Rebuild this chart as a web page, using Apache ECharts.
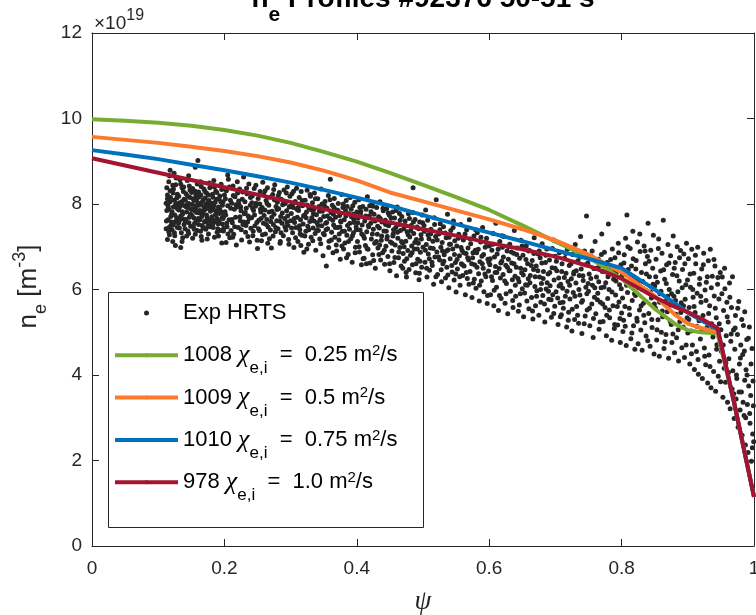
<!DOCTYPE html>
<html><head><meta charset="utf-8">
<script src="https://cdn.jsdelivr.net/npm/echarts@6/dist/echarts.min.js"></script>
<style>html,body{margin:0;padding:0;background:#fff}#c{width:756px;height:615px}</style>
</head><body><div id="c"></div>
<script>
// ---------- data ----------
const xTicks = [0, 0.2, 0.4, 0.6, 0.8, 1];
const yTicks = [0, 2, 4, 6, 8, 10, 12];
const modelPsi = [0,0.05,0.1,0.15,0.2,0.25,0.3,0.35,0.4,0.45,0.5,0.55,0.6,0.65,0.7,0.75,0.8,0.85,0.88,0.9,0.92,0.945,0.97,1.0];
const ne1008 = [9.98,9.95,9.9,9.83,9.73,9.6,9.43,9.22,8.99,8.73,8.45,8.16,7.86,7.5,7.12,6.76,6.25,5.55,5.2,5.05,5.0,4.97,3.35,1.15];
const ne1009 = [9.57,9.5,9.43,9.34,9.24,9.12,8.97,8.78,8.55,8.27,8.06,7.85,7.64,7.41,7.15,6.82,6.4,5.85,5.42,5.2,5.1,5.0,3.35,1.15];
const ne1010 = [9.26,9.16,9.05,8.92,8.79,8.65,8.5,8.33,8.15,7.96,7.74,7.53,7.33,7.13,6.92,6.72,6.5,6.0,5.68,5.46,5.28,5.07,3.35,1.15];
const ne978  = [9.07,8.9,8.73,8.56,8.39,8.22,8.05,7.88,7.72,7.57,7.41,7.26,7.09,6.94,6.77,6.55,6.26,5.82,5.6,5.47,5.32,5.1,3.35,1.15];
const runIds = ['1008', '1009', '1010', '978'];
const chiLabels = ['0.25', '0.5', '0.75', '1.0'];
const expName = 'Exp HRTS';
const expHrts = [
[0.112,7.42],[0.113,7.85],[0.114,8.21],[0.115,7.63],[0.116,8.52],[0.117,7.28],[0.118,8.05],[0.119,7.71],[0.113,8.38],[0.115,7.95],[0.117,8.66],[0.119,7.49],[0.114,7.17],[0.116,7.88],[0.118,8.31],[0.112,8.02],[0.120,7.58],[0.118,8.79],[0.116,7.35],[0.114,8.12],
[0.121,7.82],[0.122,8.44],[0.123,7.51],[0.124,8.09],[0.125,7.26],[0.126,7.97],[0.127,8.61],[0.128,7.68],[0.129,8.23],[0.121,7.39],[0.123,8.35],[0.125,7.74],[0.127,8.02],[0.129,7.45],[0.122,7.12],[0.124,8.72],[0.126,7.59],[0.128,8.14],[0.130,7.89],[0.126,7.03],[0.123,7.93],
[0.131,8.18],[0.132,7.61],[0.133,7.94],[0.134,8.47],[0.135,7.33],[0.136,8.06],[0.137,7.77],[0.138,8.29],[0.139,7.52],[0.131,7.86],[0.133,8.57],[0.135,7.99],[0.137,7.21],[0.139,8.11],[0.132,7.44],[0.134,7.72],[0.136,8.38],[0.138,7.65],[0.140,7.96],[0.134,6.98],[0.136,7.12],
[0.141,7.58],[0.142,8.24],[0.143,7.81],[0.144,8.55],[0.145,7.37],[0.146,8.01],[0.147,7.69],[0.148,8.33],[0.149,7.48],[0.141,8.09],[0.143,7.25],[0.145,7.92],[0.147,8.42],[0.149,7.76],[0.142,7.64],[0.144,7.98],[0.146,7.31],[0.148,8.15],[0.150,7.87],[0.146,8.66],
[0.151,7.73],[0.152,8.36],[0.153,7.47],[0.154,8.08],[0.155,7.84],[0.156,7.29],[0.157,8.21],[0.158,7.62],[0.159,8.47],[0.151,7.99],[0.153,8.12],[0.155,7.55],[0.157,7.91],[0.159,7.38],[0.152,7.2],[0.154,7.67],[0.156,8.3],[0.158,7.8],[0.160,8.03],[0.156,8.86],[0.160,9.02],
[0.161,7.52],[0.162,8.17],[0.163,7.85],[0.164,7.36],[0.165,8.41],[0.166,7.71],[0.167,8.06],[0.168,7.44],[0.169,7.93],[0.161,8.28],[0.163,7.63],[0.165,7.24],[0.167,7.78],[0.169,8.35],[0.162,7.97],[0.164,8.52],[0.166,7.15],[0.168,8.1],[0.170,7.59],[0.164,8.0],
[0.171,7.88],[0.172,7.41],[0.173,8.26],[0.174,7.67],[0.175,8.04],[0.176,7.3],[0.177,7.95],[0.178,8.38],[0.179,7.56],[0.171,8.14],[0.173,7.74],[0.175,7.48],[0.177,8.49],[0.179,7.83],[0.172,7.99],[0.174,7.18],[0.176,8.21],[0.178,7.62],[0.180,7.91],
[0.181,7.7],[0.182,8.23],[0.183,7.45],[0.184,7.96],[0.185,8.4],[0.186,7.58],[0.187,7.84],[0.188,8.11],[0.189,7.34],[0.181,8.02],[0.183,7.87],[0.185,7.22],[0.187,8.3],[0.189,7.66],[0.182,7.51],[0.184,8.55],[0.186,8.04],[0.188,7.79],[0.190,7.42],
[0.191,7.93],[0.192,7.6],[0.193,8.19],[0.194,7.38],[0.195,7.81],[0.196,8.34],[0.197,7.53],[0.198,8.05],[0.199,7.72],[0.191,7.25],[0.193,7.88],[0.195,8.46],[0.197,7.97],[0.199,7.43],[0.192,8.12],[0.196,7.09],[0.198,7.66],[0.200,8.21],[0.205,8.68],
[0.1125,7.6],[0.1145,8.0],[0.1165,7.45],[0.1185,8.15],[0.1205,7.77],[0.1225,8.26],[0.1245,7.33],[0.1265,8.45],[0.1285,7.9],[0.1305,7.55],[0.1325,8.03],[0.1345,7.68],[0.1365,7.82],[0.1385,8.4],[0.1405,7.42],[0.1425,7.93],[0.1445,8.18],[0.1465,7.56],[0.1485,7.72],[0.1505,8.27],[0.1525,7.88],[0.1545,7.41],[0.1565,7.96],[0.1585,8.12],[0.1605,7.66],[0.1625,7.79],[0.1645,8.21],[0.1665,7.5],[0.1685,7.84],[0.1705,8.3],[0.1725,7.58],[0.1745,7.9],[0.1765,8.08],[0.1785,7.47],[0.1805,7.86],[0.1825,8.16],[0.1845,7.62],[0.1865,7.75],[0.1885,8.27],[0.1905,7.54],[0.1925,7.78],[0.1945,8.05],[0.1965,7.68],[0.1985,7.37],
[0.201,7.82],[0.203,8.31],[0.204,7.47],[0.205,7.96],[0.206,8.58],[0.207,7.63],[0.208,7.21],[0.209,8.09],[0.202,7.74],[0.210,7.38],
[0.211,8.02],[0.212,7.56],[0.213,8.42],[0.214,7.29],[0.215,7.88],[0.216,8.17],[0.217,7.69],[0.218,7.04],[0.219,7.93],[0.220,8.26],
[0.221,7.45],[0.222,7.99],[0.223,8.35],[0.224,7.61],[0.225,7.84],[0.226,7.16],[0.227,8.11],[0.228,7.52],[0.229,8.63],[0.230,7.77],
[0.231,8.05],[0.232,7.34],[0.233,7.9],[0.234,8.24],[0.235,7.58],[0.236,7.72],[0.237,8.47],[0.238,7.11],[0.239,7.97],[0.240,7.43],
[0.241,7.68],[0.242,8.19],[0.243,7.26],[0.244,7.85],[0.245,8.36],[0.246,7.49],[0.247,7.95],[0.248,8.02],[0.249,7.57],[0.250,6.96],
[0.251,8.13],[0.252,7.62],[0.253,7.38],[0.254,8.29],[0.255,7.81],[0.256,7.14],[0.257,7.92],[0.258,8.51],[0.259,7.55],[0.260,7.73],
[0.261,7.86],[0.262,7.3],[0.263,8.08],[0.264,7.64],[0.265,8.38],[0.266,7.46],[0.267,7.97],[0.268,7.19],[0.269,8.16],[0.270,7.59],
[0.271,6.97],[0.272,7.83],[0.273,8.22],[0.274,7.52],[0.275,7.76],[0.276,8.45],[0.277,7.35],[0.278,7.94],[0.279,7.61],[0.280,8.04],
[0.281,7.42],[0.282,7.89],[0.283,8.27],[0.284,7.08],[0.285,7.71],[0.286,8.11],[0.287,7.55],[0.288,7.98],[0.289,7.26],[0.290,8.33],
[0.291,7.66],[0.292,8.01],[0.293,7.39],[0.294,7.84],[0.295,8.4],[0.296,7.5],[0.297,7.17],[0.298,7.93],[0.299,8.18],[0.300,7.61],
[0.2015,8.12],[0.2035,7.55],[0.2055,7.3],[0.2075,8.4],[0.2095,7.9],[0.2025,7.1],
[0.2115,7.64],[0.2135,8.2],[0.2155,7.47],[0.2175,7.98],[0.2195,8.52],[0.2125,7.22],
[0.2215,8.07],[0.2235,7.7],[0.2255,7.4],[0.2275,8.28],[0.2295,7.58],[0.2245,7.93],
[0.2315,7.8],[0.2335,8.37],[0.2355,7.24],[0.2375,7.66],[0.2395,8.15],[0.2325,7.5],
[0.2415,8.03],[0.2435,7.36],[0.2455,7.74],[0.2475,8.44],[0.2495,7.15],[0.2425,7.9],
[0.2515,7.42],[0.2535,8.0],[0.2555,7.66],[0.2575,7.28],[0.2595,8.22],[0.2545,7.88],
[0.2615,8.31],[0.2635,7.52],[0.2655,7.08],[0.2675,7.81],[0.2695,7.39],[0.2645,8.01],
[0.2715,7.69],[0.2735,7.25],[0.2755,8.1],[0.2775,7.45],[0.2795,7.87],[0.2745,8.34],
[0.2815,8.2],[0.2835,7.6],[0.2855,7.33],[0.2875,7.79],[0.2895,8.05],[0.2845,7.12],
[0.2915,7.47],[0.2935,8.26],[0.2955,7.72],[0.2975,7.06],[0.2995,7.95],[0.2945,7.58],
[0.301,7.78],[0.302,8.24],[0.303,7.33],[0.304,7.92],[0.305,6.98],[0.306,7.57],[0.307,8.06],[0.308,7.45],[0.309,8.37],[0.310,7.69],
[0.311,7.12],[0.312,7.85],[0.313,8.15],[0.314,7.4],[0.315,7.63],[0.316,8.29],[0.317,7.27],[0.318,7.96],[0.319,7.53],[0.320,6.87],
[0.321,7.74],[0.322,8.09],[0.323,7.36],[0.324,7.81],[0.325,8.32],[0.326,7.48],[0.327,7.06],[0.328,7.9],[0.329,7.59],[0.330,8.18],
[0.331,7.22],[0.332,7.68],[0.333,8.03],[0.334,7.44],[0.335,7.87],[0.336,8.26],[0.337,7.31],[0.338,6.92],[0.339,7.75],[0.340,7.56],
[0.341,8.12],[0.342,7.38],[0.343,7.94],[0.344,7.18],[0.345,7.62],[0.346,8.35],[0.347,7.49],[0.348,7.83],[0.349,6.79],[0.350,7.71],
[0.351,7.28],[0.352,8.06],[0.353,7.55],[0.354,6.55],[0.355,7.9],[0.356,7.42],[0.357,8.2],[0.358,7.13],[0.359,7.66],[0.360,8.58],
[0.361,7.8],[0.362,7.34],[0.363,7.97],[0.364,6.86],[0.365,7.51],[0.366,8.13],[0.367,7.22],[0.368,7.69],[0.369,7.04],[0.370,7.86],
[0.371,7.45],[0.372,8.01],[0.373,7.16],[0.374,7.73],[0.375,6.71],[0.376,7.58],[0.377,8.22],[0.378,7.36],[0.379,7.92],[0.380,6.95],
[0.381,7.63],[0.382,7.09],[0.383,7.84],[0.384,8.08],[0.385,7.27],[0.386,7.5],[0.387,6.82],[0.388,7.77],[0.389,7.41],[0.390,8.15],
[0.391,7.19],[0.392,7.7],[0.393,6.64],[0.394,7.96],[0.395,7.33],[0.396,7.57],[0.397,8.04],[0.398,6.99],[0.399,7.46],[0.400,7.81],
[0.3015,7.44],[0.3035,8.0],[0.3055,7.66],[0.3075,7.21],[0.3095,7.88],[0.3045,8.3],
[0.3115,7.92],[0.3135,7.49],[0.3155,7.03],[0.3175,8.08],[0.3195,7.72],[0.3145,7.3],
[0.3215,7.25],[0.3235,7.68],[0.3255,7.97],[0.3275,7.4],[0.3295,8.22],[0.3245,6.95],
[0.3315,7.86],[0.3335,7.14],[0.3355,7.6],[0.3375,8.12],[0.3395,7.38],[0.3345,7.77],
[0.3415,7.5],[0.3435,7.83],[0.3455,7.07],[0.3475,8.0],[0.3495,7.31],[0.3445,7.64],
[0.3515,7.95],[0.3535,7.4],[0.3555,7.72],[0.3575,6.98],[0.3595,8.1],[0.3545,7.57],
[0.3615,7.16],[0.3635,7.62],[0.3655,7.92],[0.3675,7.45],[0.3695,6.9],[0.3645,7.76],
[0.3715,7.85],[0.3735,7.3],[0.3755,7.6],[0.3775,7.02],[0.3795,8.0],[0.3745,7.46],
[0.3815,7.36],[0.3835,7.72],[0.3855,7.94],[0.3875,7.12],[0.3895,7.55],[0.3845,6.74],
[0.3915,7.88],[0.3935,7.26],[0.3955,7.64],[0.3975,6.86],[0.3995,7.4],[0.3945,7.76],
[0.401,7.12],[0.402,7.67],[0.403,8.1],[0.404,6.88],[0.405,7.39],[0.406,7.83],[0.407,6.58],[0.408,7.51],[0.409,7.94],[0.410,7.26],
[0.411,6.73],[0.412,7.6],[0.413,7.03],[0.414,7.88],[0.415,7.35],[0.416,8.17],[0.417,6.94],[0.418,7.47],[0.419,7.72],[0.420,6.62],
[0.421,7.55],[0.422,7.18],[0.423,7.99],[0.424,6.81],[0.425,7.41],[0.426,7.76],[0.427,7.08],[0.428,6.5],[0.429,7.63],[0.430,7.92],
[0.431,7.29],[0.432,6.97],[0.433,7.7],[0.434,7.44],[0.435,8.05],[0.436,6.69],[0.437,7.15],[0.438,7.58],[0.439,6.86],[0.440,7.84],
[0.441,7.37],[0.442,6.59],[0.443,7.62],[0.444,7.01],[0.445,7.89],[0.446,7.24],[0.447,6.77],[0.448,7.49],[0.449,7.74],[0.450,6.44],
[0.451,7.11],[0.452,7.56],[0.453,6.9],[0.454,7.81],[0.455,7.3],[0.456,6.63],[0.457,7.67],[0.458,7.04],[0.459,7.45],[0.460,6.32],
[0.461,7.93],[0.462,7.2],[0.463,6.74],[0.464,7.52],[0.465,6.98],[0.466,7.38],[0.467,6.55],[0.468,7.71],[0.469,7.09],[0.470,6.84],
[0.471,7.42],[0.472,6.66],[0.473,7.6],[0.474,7.13],[0.475,6.29],[0.476,7.35],[0.477,6.91],[0.478,7.77],[0.479,6.47],[0.480,7.23],
[0.481,6.8],[0.482,7.5],[0.483,7.02],[0.484,6.58],[0.485,8.38],[0.486,7.31],[0.487,6.95],[0.488,7.64],[0.489,6.39],[0.490,7.17],
[0.491,7.46],[0.492,6.71],[0.493,7.08],[0.494,6.23],[0.495,7.58],[0.496,6.87],[0.497,7.28],[0.498,6.52],[0.499,7.74],[0.500,6.99],
[0.4015,7.56],[0.4035,7.0],[0.4055,7.78],[0.4075,7.3],[0.4095,6.72],[0.4045,7.92],
[0.4115,7.2],[0.4135,7.72],[0.4155,6.96],[0.4175,7.5],[0.4195,7.96],[0.4145,6.6],
[0.4215,7.82],[0.4235,7.3],[0.4255,6.68],[0.4275,7.6],[0.4295,7.12],[0.4245,7.95],
[0.4315,7.48],[0.4335,6.82],[0.4355,7.66],[0.4375,7.25],[0.4395,7.9],[0.4345,7.04],
[0.4415,6.92],[0.4435,7.52],[0.4455,7.18],[0.4475,7.79],[0.4495,6.6],[0.4445,7.36],
[0.4515,7.68],[0.4535,7.08],[0.4555,7.4],[0.4575,6.75],[0.4595,7.85],[0.4545,7.25],
[0.4615,7.34],[0.4635,6.88],[0.4655,7.62],[0.4675,7.12],[0.4695,6.5],[0.4645,7.78],
[0.4715,7.0],[0.4735,7.5],[0.4755,6.72],[0.4775,7.28],[0.4795,7.66],[0.4745,6.4],
[0.4815,7.38],[0.4835,6.86],[0.4855,7.58],[0.4875,7.1],[0.4895,6.6],[0.4845,7.8],
[0.4915,6.95],[0.4935,7.42],[0.4955,6.66],[0.4975,7.18],[0.4995,7.56],[0.4945,6.38],
[0.502,7.36],[0.503,6.64],[0.505,7.05],[0.506,6.29],[0.507,7.62],[0.508,6.83],[0.509,7.19],[0.510,6.45],[0.504,7.86],
[0.511,6.97],[0.512,7.41],[0.514,6.56],[0.515,7.13],[0.516,6.12],[0.517,7.68],[0.518,6.76],[0.519,7.24],[0.520,8.1],
[0.521,6.88],[0.522,6.35],[0.524,7.3],[0.525,6.69],[0.526,7.54],[0.527,6.99],[0.528,6.18],[0.529,7.1],[0.530,6.6],
[0.531,7.47],[0.532,6.81],[0.534,6.27],[0.535,7.21],[0.536,6.52],[0.537,7.76],[0.538,6.93],[0.539,6.04],[0.540,7.06],
[0.541,6.72],[0.542,7.38],[0.544,6.41],[0.545,6.95],[0.546,7.6],[0.547,6.22],[0.548,7.14],[0.549,6.63],[0.550,5.94],
[0.551,7.02],[0.552,6.48],[0.554,7.29],[0.555,6.79],[0.556,6.1],[0.557,7.52],[0.558,6.6],[0.559,6.91],[0.560,6.33],
[0.561,7.16],[0.562,6.55],[0.564,5.88],[0.565,6.84],[0.566,7.4],[0.567,6.26],[0.568,6.97],[0.569,6.69],[0.570,7.63],
[0.571,6.42],[0.572,7.07],[0.574,5.81],[0.575,6.74],[0.576,6.15],[0.577,7.25],[0.578,6.58],[0.579,6.92],[0.580,6.03],
[0.581,6.86],[0.582,7.33],[0.584,6.37],[0.585,5.73],[0.586,6.65],[0.587,7.11],[0.588,6.2],[0.589,6.78],[0.590,7.45],
[0.591,6.5],[0.592,5.95],[0.594,6.99],[0.595,6.3],[0.596,7.2],[0.597,5.67],[0.598,6.71],[0.599,6.43],[0.600,7.02],
[0.5015,7.5],[0.5035,6.92],[0.5055,6.5],[0.5075,7.28],[0.5095,6.72],
[0.5115,7.3],[0.5135,6.64],[0.5155,6.96],[0.5175,7.52],[0.5195,6.3],
[0.5215,7.16],[0.5235,6.76],[0.5255,7.4],[0.5275,6.46],[0.5295,6.9],
[0.5315,6.66],[0.5335,7.32],[0.5355,6.9],[0.5375,6.34],[0.5395,7.22],
[0.5415,7.06],[0.5435,6.56],[0.5455,7.45],[0.5475,6.82],[0.5495,6.36],
[0.5515,6.7],[0.5535,7.2],[0.5555,6.3],[0.5575,6.98],[0.5595,6.58],
[0.5615,6.86],[0.5635,7.3],[0.5655,6.4],[0.5675,6.74],[0.5695,6.12],
[0.5715,7.18],[0.5735,6.6],[0.5755,6.86],[0.5775,6.24],[0.5795,7.4],
[0.5815,6.52],[0.5835,6.94],[0.5855,6.1],[0.5875,7.22],[0.5895,6.6],
[0.5915,6.82],[0.5935,6.36],[0.5955,7.1],[0.5975,5.86],[0.5995,6.64],
[0.601,6.58],[0.602,5.88],[0.604,6.92],[0.605,6.21],[0.606,7.31],[0.607,5.62],[0.608,6.76],[0.609,6.4],[0.610,7.55],
[0.611,6.05],[0.612,6.83],[0.614,5.51],[0.615,6.49],[0.616,7.12],[0.617,6.27],[0.618,5.79],[0.619,6.66],[0.620,6.99],
[0.621,6.35],[0.622,7.24],[0.624,5.68],[0.625,6.57],[0.626,6.14],[0.627,6.9],[0.628,5.43],[0.629,6.71],[0.630,6.44],
[0.631,7.06],[0.632,5.96],[0.634,6.62],[0.635,6.23],[0.636,5.58],[0.637,6.85],[0.638,7.38],[0.639,6.31],[0.640,5.84],
[0.641,6.52],[0.642,6.97],[0.644,5.49],[0.645,6.18],[0.646,6.73],[0.647,5.9],[0.648,7.15],[0.649,6.39],[0.650,6.02],
[0.651,6.8],[0.652,5.36],[0.654,6.46],[0.655,6.11],[0.656,7.02],[0.657,5.73],[0.658,6.6],[0.659,6.25],[0.660,5.55],
[0.661,6.91],[0.662,6.33],[0.664,5.81],[0.665,6.68],[0.666,5.31],[0.667,6.47],[0.668,7.21],[0.669,6.07],[0.670,5.62],
[0.671,6.55],[0.672,5.97],[0.674,6.83],[0.675,5.4],[0.676,6.29],[0.677,6.74],[0.678,5.7],[0.679,6.14],[0.680,7.07],
[0.681,5.86],[0.682,6.42],[0.684,5.24],[0.685,6.63],[0.686,6.01],[0.687,6.95],[0.688,5.52],[0.689,6.36],[0.690,5.77],
[0.691,6.69],[0.692,6.09],[0.694,5.35],[0.695,6.51],[0.696,5.88],[0.697,7.16],[0.698,6.22],[0.699,5.61],[0.700,6.78],
[0.6015,6.72],[0.6035,6.3],[0.6055,7.06],[0.6075,5.98],[0.6095,6.54],
[0.6115,6.4],[0.6135,6.94],[0.6155,5.86],[0.6175,6.62],[0.6195,7.26],
[0.6215,6.76],[0.6235,6.2],[0.6255,5.9],[0.6275,6.52],[0.6295,7.0],
[0.6315,6.44],[0.6335,6.88],[0.6355,5.74],[0.6375,6.6],[0.6395,6.1],
[0.6415,6.82],[0.6435,6.26],[0.6455,5.64],[0.6475,6.5],[0.6495,7.02],
[0.6515,6.34],[0.6535,5.92],[0.6555,6.7],[0.6575,6.1],[0.6595,6.9],
[0.6615,6.16],[0.6635,6.56],[0.6655,5.5],[0.6675,6.84],[0.6695,6.3],
[0.6715,5.84],[0.6735,6.44],[0.6755,6.9],[0.6775,6.0],[0.6795,6.62],
[0.6815,6.26],[0.6835,5.66],[0.6855,6.8],[0.6875,6.16],[0.6895,5.96],
[0.6915,6.4],[0.6935,5.76],[0.6955,6.96],[0.6975,5.44],[0.6995,6.5],
[0.701,5.95],[0.702,6.44],[0.704,5.18],[0.705,6.27],[0.706,6.86],[0.707,5.69],[0.708,6.12],[0.709,5.41],[0.710,6.6],
[0.711,6.03],[0.712,5.56],[0.714,6.73],[0.715,5.84],[0.716,6.38],[0.717,5.12],[0.718,6.94],[0.719,6.19],[0.720,5.47],
[0.721,6.56],[0.722,5.78],[0.724,6.25],[0.725,5.03],[0.726,6.82],[0.727,5.93],[0.728,6.41],[0.729,5.3],[0.730,7.05],
[0.731,6.15],[0.732,5.6],[0.734,6.67],[0.735,5.21],[0.736,6.33],[0.737,5.87],[0.738,7.24],[0.739,6.48],[0.740,4.97],
[0.741,5.74],[0.742,6.21],[0.744,6.9],[0.745,5.38],[0.746,6.05],[0.747,7.72],[0.748,5.52],[0.749,6.62],[0.750,5.96],
[0.751,6.36],[0.752,5.15],[0.754,6.78],[0.755,5.66],[0.756,6.1],[0.757,4.88],[0.758,6.49],[0.759,5.82],[0.760,7.12],
[0.761,5.43],[0.762,6.29],[0.764,5.91],[0.765,6.71],[0.766,5.07],[0.767,6.55],[0.768,5.7],[0.769,6.04],[0.770,7.3],
[0.771,6.42],[0.772,5.25],[0.774,6.87],[0.775,5.58],[0.776,6.16],[0.777,4.92],[0.778,6.63],[0.779,5.79],[0.780,7.53],
[0.781,6.0],[0.782,5.34],[0.784,6.52],[0.785,4.81],[0.786,6.95],[0.787,5.62],[0.788,6.24],[0.789,5.09],[0.790,6.74],
[0.791,5.87],[0.792,6.39],[0.794,5.17],[0.795,7.08],[0.796,5.71],[0.797,6.11],[0.798,4.76],[0.799,6.58],[0.800,5.45],
[0.7015,6.66],[0.7035,5.8],[0.7055,6.08],[0.7075,5.36],[0.7095,6.42],
[0.7115,5.7],[0.7135,6.28],[0.7155,6.84],[0.7175,5.96],[0.7195,5.28],
[0.7215,6.1],[0.7235,6.6],[0.7255,5.54],[0.7275,6.36],[0.7295,5.84],
[0.7315,6.44],[0.7335,5.4],[0.7355,6.0],[0.7375,6.76],[0.7395,5.7],
[0.7415,6.32],[0.7435,5.2],[0.7455,6.58],[0.7475,5.9],[0.7495,6.14],
[0.7515,5.56],[0.7535,6.26],[0.7555,6.9],[0.7575,5.32],[0.7595,6.04],
[0.7615,6.5],[0.7635,5.76],[0.7655,6.18],[0.7675,5.24],[0.7695,6.82],
[0.7715,5.66],[0.7735,6.06],[0.7755,6.52],[0.7775,5.4],[0.7795,6.3],
[0.7815,5.52],[0.7835,6.7],[0.7855,5.94],[0.7875,6.4],[0.7895,5.18],
[0.7915,6.2],[0.7935,5.6],[0.7955,6.86],[0.7975,5.32],[0.7995,6.02],
[0.801,6.33],[0.802,5.02],[0.804,6.81],[0.805,5.6],[0.806,7.2],[0.807,4.69],[0.808,7.74],[0.809,5.93],[0.810,6.47],[0.803,5.28],
[0.811,6.12],[0.812,5.41],[0.813,6.96],[0.814,4.85],[0.815,6.55],[0.816,5.74],[0.817,7.36],[0.818,5.15],[0.819,6.26],[0.820,4.6],
[0.821,5.86],[0.822,6.68],[0.823,5.33],[0.824,7.11],[0.825,4.73],[0.826,6.04],[0.827,5.52],[0.828,6.89],[0.829,5.05],[0.830,6.4],
[0.831,4.58],[0.832,6.19],[0.833,5.68],[0.834,7.02],[0.835,5.22],[0.836,6.6],[0.837,4.91],[0.838,5.97],[0.839,6.77],[0.840,7.55],
[0.841,5.44],[0.842,6.3],[0.843,4.67],[0.844,6.92],[0.845,5.8],[0.846,5.11],[0.847,6.5],[0.848,7.27],[0.849,4.49],[0.850,6.08],
[0.851,5.57],[0.852,6.71],[0.853,4.82],[0.854,6.17],[0.855,5.29],[0.856,7.18],[0.857,4.44],[0.858,5.9],[0.859,6.43],[0.860,5.0],
[0.861,6.85],[0.862,5.36],[0.863,7.62],[0.864,4.62],[0.865,6.24],[0.866,5.72],[0.867,4.95],[0.868,6.58],[0.869,5.48],[0.870,7.05],
[0.871,4.39],[0.872,6.0],[0.873,5.63],[0.874,6.79],[0.875,5.18],[0.876,4.76],[0.877,6.35],[0.878,7.25],[0.879,5.84],[0.880,4.52],
[0.881,6.63],[0.882,5.42],[0.883,4.87],[0.884,7.0],[0.885,5.95],[0.886,4.33],[0.887,6.2],[0.888,5.25],[0.889,6.91],[0.890,5.69],
[0.891,4.64],[0.892,6.47],[0.893,5.12],[0.894,6.83],[0.895,4.41],[0.896,5.77],[0.897,6.11],[0.898,7.08],[0.899,5.34],[0.900,4.98],
[0.8015,5.8],[0.8035,6.62],[0.8055,5.14],[0.8075,6.1],[0.8095,7.0],
[0.8115,5.56],[0.8135,6.34],[0.8155,4.98],[0.8175,6.72],[0.8195,5.9],
[0.8215,6.48],[0.8235,5.26],[0.8255,6.2],[0.8275,7.3],[0.8295,5.62],
[0.8315,6.0],[0.8335,5.4],[0.8355,6.9],[0.8375,6.36],[0.8395,4.8],
[0.8415,6.66],[0.8435,5.94],[0.8455,5.3],[0.8475,6.12],[0.8495,5.66],
[0.8515,6.3],[0.8535,5.06],[0.8555,6.96],[0.8575,5.7],[0.8595,5.96],
[0.8615,5.5],[0.8635,6.46],[0.8655,4.78],[0.8675,6.14],[0.8695,5.84],
[0.8715,6.62],[0.8735,5.26],[0.8755,5.9],[0.8775,4.96],[0.8795,6.5],
[0.8815,5.74],[0.8835,6.32],[0.8855,5.06],[0.8875,6.74],[0.8895,5.46],
[0.8915,6.04],[0.8935,5.62],[0.8955,6.6],[0.8975,4.7],[0.8995,6.22],
[0.901,6.72],[0.902,5.58],[0.903,4.26],[0.904,6.05],[0.905,5.03],[0.906,6.94],[0.907,4.7],[0.908,5.82],[0.909,6.38],[0.910,4.13],
[0.911,5.46],[0.912,6.6],[0.913,4.55],[0.914,5.91],[0.915,6.99],[0.916,4.02],[0.917,5.27],[0.918,6.26],[0.919,4.84],[0.920,5.7],
[0.921,6.48],[0.922,3.92],[0.923,5.39],[0.924,6.85],[0.925,4.63],[0.926,5.99],[0.927,4.24],[0.928,6.17],[0.929,5.11],[0.930,3.81],
[0.931,6.67],[0.932,4.47],[0.933,5.62],[0.934,6.94],[0.935,3.7],[0.936,5.2],[0.937,6.31],[0.938,4.89],[0.939,4.08],[0.940,5.85],
[0.941,6.55],[0.942,3.62],[0.943,5.34],[0.944,4.71],[0.945,6.12],[0.946,3.97],[0.947,5.78],[0.948,4.32],[0.949,6.4],[0.950,5.06],
[0.951,4.55],[0.952,6.29],[0.953,3.48],[0.954,5.51],[0.955,4.16],[0.956,6.02],[0.957,3.83],[0.958,4.92],[0.959,5.7],[0.960,3.36],
[0.961,5.24],[0.962,4.38],[0.963,6.15],[0.964,3.21],[0.965,4.79],[0.966,5.58],[0.967,3.67],[0.968,4.1],[0.969,5.05],[0.970,2.98],
[0.971,4.6],[0.972,5.39],[0.973,3.44],[0.974,3.92],[0.975,4.95],[0.976,2.78],[0.977,5.72],[0.978,4.26],[0.979,3.18],[0.980,4.7],
[0.981,3.6],[0.982,2.59],[0.983,4.48],[0.984,5.16],[0.985,3.05],[0.986,3.88],[0.987,2.36],[0.988,4.12],[0.989,4.83],[0.990,3.31],[0.986,5.48],
[0.991,2.19],[0.992,3.74],[0.993,5.12],[0.994,2.87],[0.995,3.52],[0.996,1.98],[0.997,4.62],[0.998,2.62],[0.999,3.28],[0.9995,2.44],
[0.9015,5.3],[0.9035,6.36],[0.9055,4.5],[0.9075,6.0],[0.9095,5.6],
[0.9115,6.8],[0.9135,5.14],[0.9155,4.36],[0.9175,6.12],[0.9195,5.84],
[0.9215,5.06],[0.9235,6.58],[0.9255,4.44],[0.9275,5.74],[0.9295,6.3],
[0.9315,5.44],[0.9335,4.2],[0.9355,6.04],[0.9375,5.1],[0.9395,6.7],
[0.9415,5.56],[0.9435,4.6],[0.9455,6.28],[0.9475,5.2],[0.9495,3.84],
[0.9515,5.9],[0.9535,4.7],[0.9555,6.5],[0.9575,4.28],[0.9595,5.36],
[0.9615,4.06],[0.9635,5.82],[0.9655,4.96],[0.9675,6.3],[0.9695,3.56],
[0.9715,5.1],[0.9735,4.0],[0.9755,5.56],[0.9775,3.6],[0.9795,4.4],
[0.9815,5.3],[0.9835,3.36],[0.9855,4.56],[0.9875,3.0],[0.9895,4.0],
[0.9915,4.86],[0.9935,3.1],[0.9955,4.26],[0.9975,2.3],[0.9985,3.86]
];

// ---------- styling ----------
const AX = '#262626';
const FONT = 'Liberation Sans, Arial, Helvetica, sans-serif';
const SERIF = 'Liberation Serif, DejaVu Serif, serif';
const lineColors = ['#77AC30', '#FB7A2E', '#0072BD', '#A2142F'];
const modelSets = [ne1008, ne1009, ne1010, ne978];

const chart = echarts.init(document.getElementById('c'), null, {renderer: 'canvas'});

const lineSeries = runIds.map((id, i) => ({
  name: id,
  type: 'line',
  symbol: 'none',
  smooth: false,
  data: modelPsi.map((p, k) => [p, modelSets[i][k]]),
  lineStyle: {color: lineColors[i], width: 4},
  itemStyle: {color: lineColors[i]},
  z: 3 + i,
  animation: false
}));

const axisCommon = {
  axisLine: {show: true, onZero: false, lineStyle: {color: AX, width: 1}},
  axisTick: {show: true, inside: true, length: 7, lineStyle: {color: AX, width: 1}},
  splitLine: {show: false}
};

const labelMap = {};
runIds.forEach((id, i) => {
  labelMap[id] = '{a|' + id + ' }{chi|χ}{sub|e,i}{a|  =  ' + chiLabels[i] + ' m}{sup|2}{a|/s}';
});
labelMap[expName] = '{a|' + expName + '}{sub| }';

chart.setOption({
  animation: false,
  backgroundColor: '#ffffff',
  title: {
    text: '{m|n}{sub|e}{m| Profiles #92376 50-51 s}',
    left: 423, textAlign: 'center', top: -16, padding: 0,
    textStyle: {
      rich: {
        m: {fontFamily: FONT, fontWeight: 'bold', fontSize: 28, color: '#000', lineHeight: 30, verticalAlign: 'middle'},
        sub: {fontFamily: FONT, fontWeight: 'bold', fontSize: 21, color: '#000', lineHeight: 10, verticalAlign: 'middle', padding: [32, 0, 0, 0]}
      }
    }
  },
  grid: {left: 92, right: 2, top: 33, bottom: 69, containLabel: false, outerBoundsMode: 'none'},
  xAxis: [
    Object.assign({
      type: 'value', min: xTicks[0], max: xTicks[xTicks.length - 1], interval: xTicks[1] - xTicks[0],
      position: 'bottom',
      axisLabel: {color: AX, fontFamily: FONT, fontSize: 19, margin: 13},
      name: 'ψ', nameLocation: 'middle', nameGap: 42,
      nameTextStyle: {fontFamily: SERIF, fontStyle: 'italic', fontSize: 27, color: AX}
    }, axisCommon),
    Object.assign({
      type: 'value', min: xTicks[0], max: xTicks[xTicks.length - 1], interval: xTicks[1] - xTicks[0],
      position: 'top', axisLabel: {show: false}
    }, axisCommon)
  ],
  yAxis: [
    Object.assign({
      type: 'value', min: yTicks[0], max: yTicks[yTicks.length - 1], interval: yTicks[1] - yTicks[0],
      position: 'left',
      axisLabel: {color: AX, fontFamily: FONT, fontSize: 19, margin: 10},
      name: '{a|n}{sub|e}{a| [m}{sup|-3}{a|]}', nameLocation: 'middle', nameRotate: 90, nameGap: 44,
      nameTextStyle: {
        padding: [0, 0, 0, 6],
        rich: {
          a: {fontFamily: FONT, fontSize: 26, color: AX, lineHeight: 36, verticalAlign: 'middle'},
          sub: {fontFamily: FONT, fontSize: 18, color: AX, lineHeight: 10, verticalAlign: 'middle', padding: [24, 0, 0, 0]},
          sup: {fontFamily: FONT, fontSize: 18, color: AX, lineHeight: 10, verticalAlign: 'middle', padding: [0, 0, 17, 0]}
        }
      }
    }, axisCommon),
    Object.assign({
      type: 'value', min: yTicks[0], max: yTicks[yTicks.length - 1], interval: yTicks[1] - yTicks[0],
      position: 'right', axisLabel: {show: false}
    }, axisCommon)
  ],
  legend: {
    orient: 'vertical', left: 113, top: 291, padding: 0,
    itemWidth: 63, itemHeight: 5, itemGap: -1.7,
    data: [{name: expName, icon: 'circle'}].concat(runIds.map(id => ({name: id}))),
    lineStyle: {width: 4},
    formatter: name => labelMap[name],
    textStyle: {
      color: '#000', lineHeight: 40, height: 40,
      rich: {
        a: {fontFamily: FONT, fontSize: 22, color: '#000', lineHeight: 40, verticalAlign: 'middle'},
        chi: {fontFamily: SERIF, fontStyle: 'italic', fontSize: 26, color: '#000', lineHeight: 40, verticalAlign: 'middle'},
        sub: {fontFamily: FONT, fontSize: 17, color: '#000', lineHeight: 10, verticalAlign: 'middle', padding: [27, 0, 0, 0]},
        sup: {fontFamily: FONT, fontSize: 15, color: '#000', lineHeight: 10, verticalAlign: 'middle', padding: [0, 0, 9, 0]}
      }
    },
    z: 10
  },
  graphic: [
    {type: 'rect', left: 108, top: 292, z: 9, shape: {width: 315, height: 235},
     style: {fill: '#fff', stroke: AX, lineWidth: 1}},
    {type: 'text', left: 94, top: 8, z: 10,
     style: {text: '{a|×10}{s|19}', rich: {
       a: {fontFamily: FONT, fontSize: 19, fill: AX, lineHeight: 30, verticalAlign: 'middle'},
       s: {fontFamily: FONT, fontSize: 16, fill: AX, lineHeight: 10, verticalAlign: 'middle', padding: [0, 0, 16, 0]}
     }}}
  ],
  series: [{
    name: expName, type: 'scatter', data: expHrts, symbol: 'circle', symbolSize: 5,
    itemStyle: {color: '#262626', opacity: 1}, z: 2, animation: false, large: false
  }].concat(lineSeries)
});
</script>
</body></html>
